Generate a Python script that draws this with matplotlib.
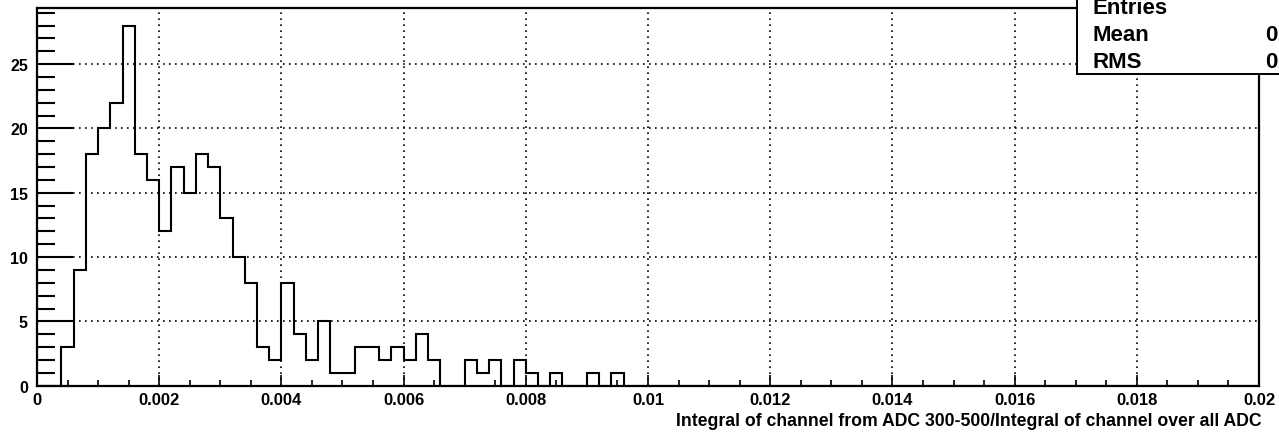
import numpy as np
import matplotlib
matplotlib.use("Agg")
import matplotlib.pyplot as plt
from matplotlib.patches import Rectangle
from matplotlib.ticker import MultipleLocator, FuncFormatter

# ---- data ----
x_min, x_max, n_bins = 0.0, 0.02, 100
counts = [0, 0, 3, 9, 18, 20, 22, 28, 18, 16,
          12, 17, 15, 18, 17, 13, 10, 8, 3, 2,
          8, 4, 2, 5, 1, 1, 3, 3, 2, 3,
          2, 4, 2, 0, 0, 2, 1, 2, 0, 2,
          1, 0, 1, 0, 0, 1, 0, 1] + [0] * 52
x_label = "Integral of channel from ADC 300-500/Integral of channel over all ADC"
stat_names = ["Entries", "Mean", "RMS"]

edges = np.linspace(x_min, x_max, n_bins + 1)
counts = np.array(counts, dtype=float)
centers = 0.5 * (edges[:-1] + edges[1:])
entries = int(counts.sum())
mean = (counts * centers).sum() / counts.sum()
rms = np.sqrt((counts * (centers - mean) ** 2).sum() / counts.sum())

plt.rcParams['font.family'] = ['Liberation Sans', 'DejaVu Sans']
plt.rcParams['font.weight'] = 'bold'

W, H = 1279, 435
fig = plt.figure(figsize=(W / 100, H / 100), dpi=100)
left, right, top, bottom = 37, 1259, 8.5, 386.7
ax = fig.add_axes([left / W, (H - bottom) / H, (right - left) / W, (bottom - top) / H])

ax.stairs(counts, edges, color='black', lw=1.5, zorder=3)
ax.set_xlim(x_min, x_max)
ax.set_ylim(0, counts.max() * 1.05)

ax.xaxis.set_major_locator(MultipleLocator(0.002))
ax.xaxis.set_minor_locator(MultipleLocator(0.0005))
ax.yaxis.set_major_locator(MultipleLocator(5))
ax.yaxis.set_minor_locator(MultipleLocator(1))
ax.xaxis.set_major_formatter(FuncFormatter(lambda v, p: "0" if abs(v) < 1e-12 else ("%g" % v)))
ax.yaxis.set_major_formatter(FuncFormatter(lambda v, p: "%d" % v))

ax.tick_params(axis='x', which='major', direction='in', length=7.9, width=1.2, labelsize=12, pad=4.5)
ax.tick_params(axis='x', which='minor', direction='in', length=4, width=1.2)
ax.tick_params(axis='y', which='major', direction='in', length=25.9, width=1.5, labelsize=11.5, pad=6.5)
ax.tick_params(axis='y', which='minor', direction='in', length=13, width=1.5)
for lab in ax.get_xticklabels() + ax.get_yticklabels():
    lab.set_fontweight('bold')

ax.grid(True, which='major', color='black', linestyle=(0, (1, 2.6)), linewidth=1.2)
ax.set_axisbelow(False)
for s in ax.spines.values():
    s.set_linewidth(1.6)
    s.set_zorder(4)

fig.text(1262 / W, 1 - 422 / H, x_label, ha='right', va='center', fontsize=12.7, fontweight='bold')

# stats box (partly outside the canvas, as in the reference)
box = Rectangle((1077 / W, 1 - 75 / H), 0.5, 0.5, transform=fig.transFigure,
                facecolor='white', edgecolor='black', lw=1.4, zorder=10, clip_on=False)
fig.patches.append(box)
vals = ["%d" % entries, "%.6f" % mean, "%.6f" % rms]
ys = [8, 36, 62]
for name, val, yy in zip(stat_names, vals, ys):
    fig.text(1092 / W, 1 - yy / H, name, ha='left', va='center', fontsize=16, fontweight='bold', zorder=11)
    xv = 1265 if name != "Entries" else 1300
    fig.text(xv / W, 1 - yy / H, val, ha='left', va='center', fontsize=16, fontweight='bold', zorder=11)

fig.savefig("out.png", dpi=100)
